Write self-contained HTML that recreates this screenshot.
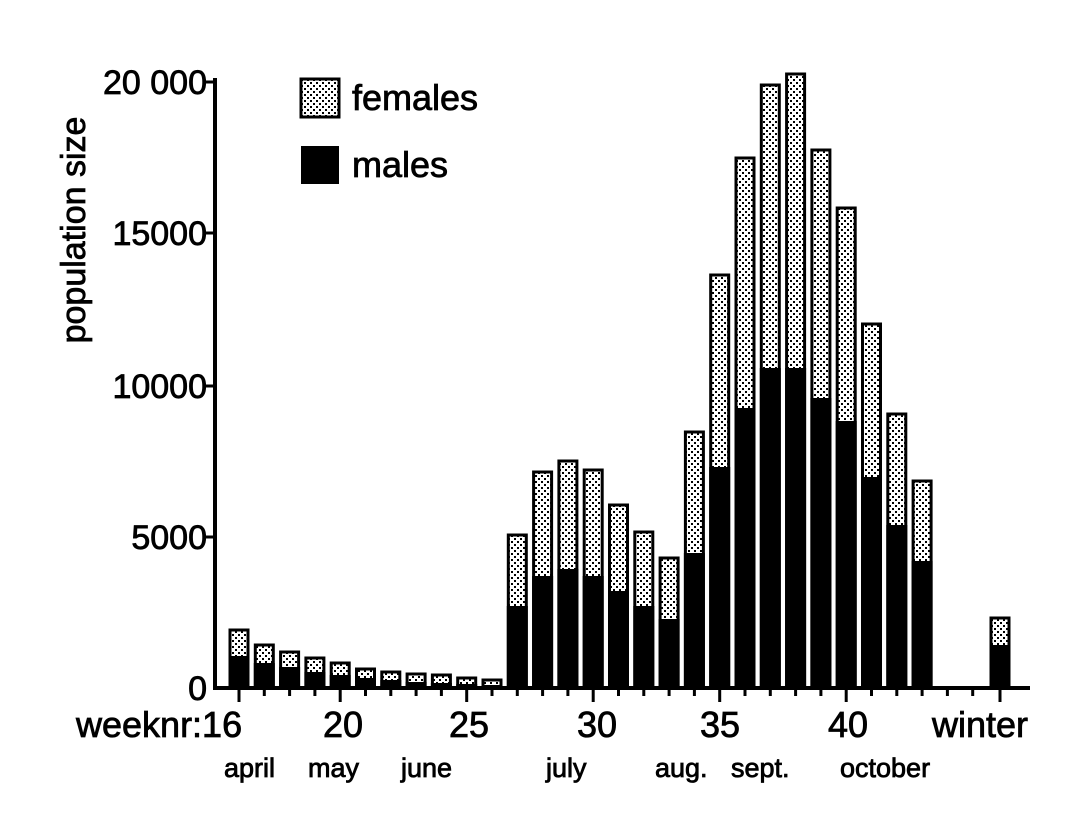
<!DOCTYPE html><html><head><style>body{margin:0;background:#fff}</style></head><body>
<svg width="1068" height="827" xmlns="http://www.w3.org/2000/svg" font-family="Liberation Sans, sans-serif">
<defs><pattern id="d" width="6" height="6" patternUnits="userSpaceOnUse"><rect width="6" height="6" fill="#fff"/><rect x="1" y="1" width="2" height="2" fill="#000"/><rect x="4" y="4" width="2" height="2" fill="#000"/></pattern></defs>
<line x1="215" y1="78" x2="215" y2="690" stroke="#000" stroke-width="4"/>
<line x1="213" y1="688" x2="1030" y2="688" stroke="#000" stroke-width="4"/>
<g stroke="#000" stroke-width="3"><line x1="205" y1="82" x2="215" y2="82"/><line x1="205" y1="233" x2="215" y2="233"/><line x1="205" y1="386" x2="215" y2="386"/><line x1="205" y1="537" x2="215" y2="537"/></g>
<g stroke="#000" stroke-width="0.8">
<g font-size="34" text-anchor="end"><text x="207" y="94">20 000</text><text x="207" y="245">15000</text><text x="207" y="398">10000</text><text x="207" y="549">5000</text><text x="207" y="700">0</text></g>
<text transform="translate(85,230) rotate(-90)" font-size="34" text-anchor="middle">population size</text>
<text x="352" y="110" font-size="36">females</text><text x="352" y="177" font-size="36">males</text>
<g font-size="36"><text x="76" y="737">weeknr:16</text><text x="343" y="737" text-anchor="middle">20</text><text x="469" y="737" text-anchor="middle">25</text><text x="597" y="737" text-anchor="middle">30</text><text x="720" y="737" text-anchor="middle">35</text><text x="848" y="737" text-anchor="middle">40</text><text x="980" y="737" text-anchor="middle">winter</text></g>
<g font-size="27"><text x="224" y="777">april</text><text x="308" y="777">may</text><text x="401" y="777">june</text><text x="546" y="777">july</text><text x="655" y="777">aug.</text><text x="731" y="777">sept.</text><text x="840" y="777">october</text></g>
</g>
<rect x="301" y="79" width="38" height="38" fill="url(#d)" stroke="#000" stroke-width="3"/>
<rect x="301" y="146" width="38" height="38" fill="#000"/>
<g stroke="#000" stroke-width="3" fill="url(#d)">
<rect x="230" y="630" width="18" height="58"/>
<rect x="255.3" y="645" width="18" height="43"/>
<rect x="280.6" y="652" width="18" height="36"/>
<rect x="305.9" y="658" width="18" height="30"/>
<rect x="331.2" y="663" width="18" height="25"/>
<rect x="356.5" y="669" width="18" height="19"/>
<rect x="381.8" y="672" width="18" height="16"/>
<rect x="407.1" y="674" width="18" height="14"/>
<rect x="432.4" y="675" width="18" height="13"/>
<rect x="457.7" y="678" width="18" height="10"/>
<rect x="483" y="680" width="18" height="8"/>
<rect x="508.3" y="535" width="18" height="153"/>
<rect x="533.6" y="472" width="18" height="216"/>
<rect x="558.9" y="461" width="18" height="227"/>
<rect x="584.2" y="470" width="18" height="218"/>
<rect x="609.5" y="505" width="18" height="183"/>
<rect x="634.8" y="532" width="18" height="156"/>
<rect x="660.1" y="558" width="18" height="130"/>
<rect x="685.4" y="432" width="18" height="256"/>
<rect x="710.7" y="275" width="18" height="413"/>
<rect x="736" y="158" width="18" height="530"/>
<rect x="761.3" y="85" width="18" height="603"/>
<rect x="786.6" y="74" width="18" height="614"/>
<rect x="811.9" y="150" width="18" height="538"/>
<rect x="837.2" y="208" width="18" height="480"/>
<rect x="862.5" y="324" width="18" height="364"/>
<rect x="887.8" y="414" width="18" height="274"/>
<rect x="913.1" y="481" width="18" height="207"/>
<rect x="991" y="618" width="18" height="70"/>
</g>
<g fill="#000">
<rect x="228.5" y="656" width="21" height="32"/>
<rect x="253.8" y="663" width="21" height="25"/>
<rect x="279.1" y="667" width="21" height="21"/>
<rect x="304.4" y="672" width="21" height="16"/>
<rect x="329.7" y="675" width="21" height="13"/>
<rect x="355" y="678" width="21" height="10"/>
<rect x="380.3" y="680" width="21" height="8"/>
<rect x="405.6" y="682" width="21" height="6"/>
<rect x="430.9" y="683" width="21" height="5"/>
<rect x="456.2" y="684" width="21" height="4"/>
<rect x="481.5" y="685" width="21" height="3"/>
<rect x="506.8" y="606" width="21" height="82"/>
<rect x="532.1" y="576" width="21" height="112"/>
<rect x="557.4" y="569" width="21" height="119"/>
<rect x="582.7" y="576" width="21" height="112"/>
<rect x="608" y="591" width="21" height="97"/>
<rect x="633.3" y="606" width="21" height="82"/>
<rect x="658.6" y="619" width="21" height="69"/>
<rect x="683.9" y="553" width="21" height="135"/>
<rect x="709.2" y="467" width="21" height="221"/>
<rect x="734.5" y="408" width="21" height="280"/>
<rect x="759.8" y="368" width="21" height="320"/>
<rect x="785.1" y="368" width="21" height="320"/>
<rect x="810.4" y="398" width="21" height="290"/>
<rect x="835.7" y="421" width="21" height="267"/>
<rect x="861" y="477" width="21" height="211"/>
<rect x="886.3" y="525" width="21" height="163"/>
<rect x="911.6" y="561" width="21" height="127"/>
<rect x="989.5" y="645" width="21" height="43"/>
</g>
<g stroke="#000" stroke-width="3">
<line x1="239" y1="688" x2="239" y2="702"/><line x1="264.3" y1="688" x2="264.3" y2="696"/><line x1="289.6" y1="688" x2="289.6" y2="696"/><line x1="314.9" y1="688" x2="314.9" y2="696"/><line x1="340.2" y1="688" x2="340.2" y2="702"/><line x1="365.5" y1="688" x2="365.5" y2="696"/><line x1="390.8" y1="688" x2="390.8" y2="696"/><line x1="416.1" y1="688" x2="416.1" y2="696"/><line x1="441.4" y1="688" x2="441.4" y2="696"/><line x1="466.7" y1="688" x2="466.7" y2="702"/><line x1="492" y1="688" x2="492" y2="696"/><line x1="517.3" y1="688" x2="517.3" y2="696"/><line x1="542.6" y1="688" x2="542.6" y2="696"/><line x1="567.9" y1="688" x2="567.9" y2="696"/><line x1="593.2" y1="688" x2="593.2" y2="702"/><line x1="618.5" y1="688" x2="618.5" y2="696"/><line x1="643.8" y1="688" x2="643.8" y2="696"/><line x1="669.1" y1="688" x2="669.1" y2="696"/><line x1="694.4" y1="688" x2="694.4" y2="696"/><line x1="719.7" y1="688" x2="719.7" y2="702"/><line x1="745" y1="688" x2="745" y2="696"/><line x1="770.3" y1="688" x2="770.3" y2="696"/><line x1="795.6" y1="688" x2="795.6" y2="696"/><line x1="820.9" y1="688" x2="820.9" y2="696"/><line x1="846.2" y1="688" x2="846.2" y2="702"/><line x1="871.5" y1="688" x2="871.5" y2="696"/><line x1="896.8" y1="688" x2="896.8" y2="696"/><line x1="922.1" y1="688" x2="922.1" y2="696"/><line x1="947.4" y1="688" x2="947.4" y2="696"/><line x1="972.7" y1="688" x2="972.7" y2="696"/><line x1="1000" y1="688" x2="1000" y2="702"/>
</g>
</svg></body></html>
